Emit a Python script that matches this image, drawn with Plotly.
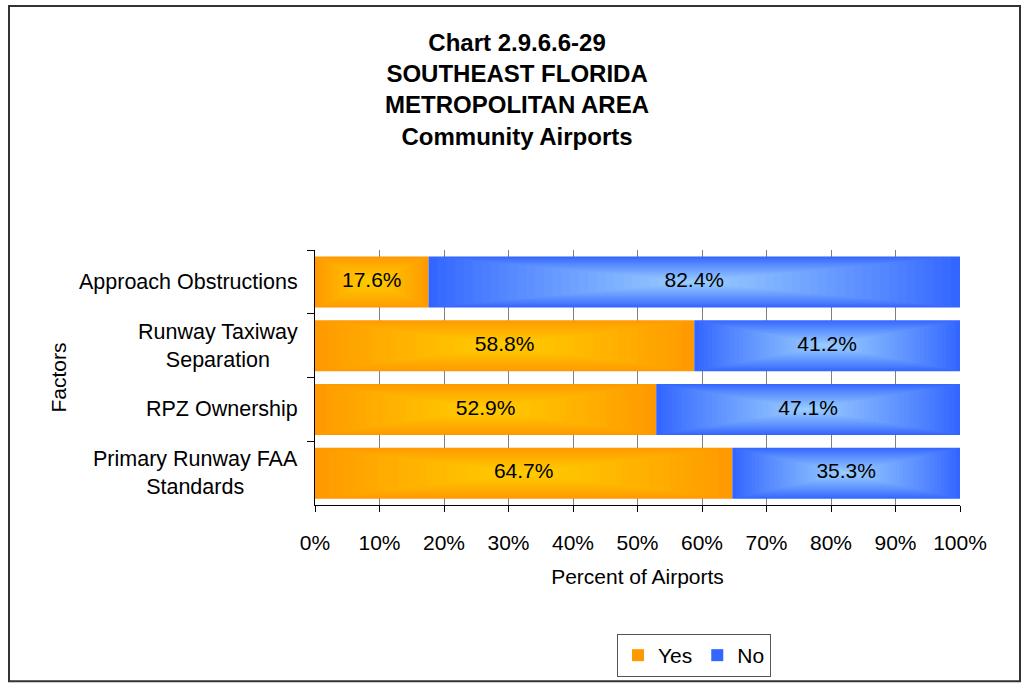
import plotly.graph_objects as go

# Survey results, listed top to bottom as shown on the chart
factors = [
    "Approach Obstructions",
    "Runway Taxiway<br>Separation",
    "RPZ Ownership",
    "Primary Runway FAA<br>Standards",
]
yes_pct = [17.6, 58.8, 52.9, 64.7]
no_pct = [82.4, 41.2, 47.1, 35.3]
x_ticks = list(range(0, 101, 10))
x_tick_labels = [f"{v}%" for v in x_ticks]

FONT = "Liberation Sans, Arial, sans-serif"
BAR_W = 0.8
LAYERS = 30

# edge colour -> centre colour for the rectangular "from centre" gradient
series = [
    ("Yes", yes_pct, (255, 153, 0), (255, 204, 0)),
    ("No", no_pct, (51, 102, 255), (153, 204, 255)),
]


def mix(c0, c1, t):
    return "rgb({},{},{})".format(*[round(a + (b - a) * t) for a, b in zip(c0, c1)])


fig = go.Figure()

starts = [0.0] * len(factors)
for name, vals, edge, centre in series:
    for k in range(LAYERS):
        f = 1 - k / LAYERS          # relative size of this nested rectangle
        t = (k / (LAYERS - 1)) ** 0.9
        fig.add_trace(go.Bar(
            orientation="h",
            y=factors,
            x=[v * f for v in vals],
            base=[s + v * (1 - f) / 2 for s, v in zip(starts, vals)],
            width=BAR_W * f,
            marker=dict(color=mix(edge, centre, t), line=dict(width=0)),
            name=name,
            legendgroup=name,
            showlegend=(k == 0),
            hoverinfo="skip",
        ))
    # value label in the middle of each segment
    fig.add_trace(go.Scatter(
        x=[s + v / 2 for s, v in zip(starts, vals)],
        y=factors,
        mode="text",
        text=[f"{v:.1f}%" for v in vals],
        textfont=dict(family=FONT, size=21, color="black"),
        showlegend=False,
        hoverinfo="skip",
        cliponaxis=False,
    ))
    starts = [s + v for s, v in zip(starts, vals)]

# category labels, centred line by line and right-aligned to the axis
category_labels = [
    dict(
        text=cat,
        xref="paper",
        yref="y",
        x=-15 / 645,
        y=cat,
        xanchor="right",
        yanchor="middle",
        align="center",
        showarrow=False,
        font=dict(family=FONT, size=21.5, color="black"),
    )
    for cat in factors
]

fig.update_layout(
    width=1030,
    height=688,
    barmode="overlay",
    bargap=0.2,
    paper_bgcolor="white",
    plot_bgcolor="white",
    margin=dict(l=315, r=70, t=250, b=182),
    font=dict(family=FONT, size=20, color="black"),
    title=dict(
        text="Chart 2.9.6.6-29<br>SOUTHEAST FLORIDA<br>METROPOLITAN AREA<br>Community Airports",
        font=dict(family=FONT, size=24, color="black", weight="bold"),
        x=0.502,
        xanchor="center",
        xref="container",
        y=1 - 51 / 688,
        yanchor="top",
    ),
    xaxis=dict(
        range=[0, 100],
        tickvals=x_ticks,
        ticktext=x_tick_labels,
        ticks="outside",
        ticklen=6,
        tickcolor="black",
        showgrid=True,
        gridcolor="#808080",
        gridwidth=1,
        showline=True,
        linecolor="black",
        linewidth=1,
        zeroline=False,
        tickfont=dict(size=21),
        ticklabelstandoff=13,
        title=dict(text="Percent of Airports", font=dict(size=21), standoff=16),
        fixedrange=True,
    ),
    yaxis=dict(
        autorange="reversed",
        ticks="outside",
        tickson="boundaries",
        ticklen=7,
        tickcolor="black",
        showline=True,
        linecolor="black",
        linewidth=1,
        showgrid=False,
        showticklabels=False,
        title=dict(text="Factors", font=dict(size=21), standoff=241),
        fixedrange=True,
    ),
    annotations=category_labels,
    legend=dict(
        orientation="h",
        x=(694 - 315) / 645,
        xanchor="center",
        y=-(634 - 506) / 256,
        yanchor="top",
        bordercolor="#555555",
        borderwidth=1,
        font=dict(size=21),
        itemwidth=30,
        traceorder="normal",
    ),
    shapes=[
        dict(
            type="rect",
            xref="paper",
            yref="paper",
            x0=(9 - 315) / 645,
            x1=(1020 - 315) / 645,
            y0=-(683 - 506) / 256,
            y1=(506 - 5) / 256,
            line=dict(color="#333333", width=2),
            layer="below",
        )
    ],
)

fig.write_html("out.html")
